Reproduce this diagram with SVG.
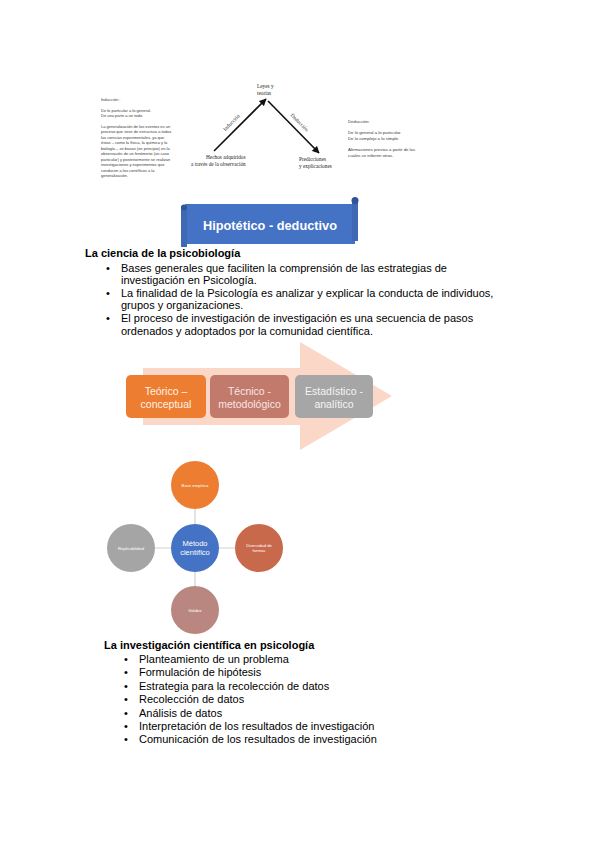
<svg xmlns="http://www.w3.org/2000/svg" width="599" height="848" viewBox="0 0 599 848">
<style>
.sm{font-family:"Liberation Sans",Arial,sans-serif;font-size:4px;fill:#3a3a3a}
.sr{font-family:"Liberation Serif","Times New Roman",serif;font-size:5.3px;fill:#222}
.body{font-family:"Liberation Sans",Arial,sans-serif;font-size:11px;fill:#000}
.hd{font-family:"Liberation Sans",Arial,sans-serif;font-size:11px;font-weight:bold;fill:#000}
.bx{font-family:"Liberation Sans",Arial,sans-serif;font-size:10.5px;text-anchor:middle}
.ct{font-family:"Liberation Sans",Arial,sans-serif;font-size:4.2px;fill:#fff;text-anchor:middle}
.conn{stroke:#cfcfcf;stroke-width:1.2}
</style>
<defs>
<marker id="ah" viewBox="0 0 10 10" refX="9" refY="5" markerWidth="4.5" markerHeight="4.5" orient="auto"><path d="M0,0 L10,5 L0,10 z" fill="#111"/></marker>
</defs>
<rect width="599" height="848" fill="#fff"/>

<g id="induccion-text">
<text class="sm" x="101" y="101">Inducción :</text>
<text class="sm" x="101" y="111.5">De lo particular a lo general.</text>
<text class="sm" x="101" y="116.5">De una parte a un todo.</text>
<text class="sm" x="101" y="128">La generalización de los eventos es un</text>
<text class="sm" x="101" y="133.4">proceso que sirve de estructura a todas</text>
<text class="sm" x="101" y="138.9">las ciencias experimentales, ya que</text>
<text class="sm" x="101" y="144.3">éstas – como la física, la química y la</text>
<text class="sm" x="101" y="149.8">biología – se basan (en principio) en la</text>
<text class="sm" x="101" y="155.2">observación de un fenómeno (un caso</text>
<text class="sm" x="101" y="160.6">particular) y posteriormente se realizan</text>
<text class="sm" x="101" y="166.1">investigaciones y experimentos que</text>
<text class="sm" x="101" y="171.5">conducen a los científicos a la</text>
<text class="sm" x="101" y="177">generalización.</text>
</g>

<g id="connectors">
<line x1="214" y1="151" x2="266" y2="99" stroke="#111" stroke-width="1.6" marker-end="url(#ah)"/>
<line x1="268" y1="101" x2="319" y2="153" stroke="#111" stroke-width="1.6" marker-end="url(#ah)"/>
<line class="conn" x1="195" y1="548" x2="195" y2="485"/>
<line class="conn" x1="195" y1="548" x2="195" y2="610"/>
<line class="conn" x1="195" y1="548" x2="131" y2="548"/>
<line class="conn" x1="195" y1="548" x2="259" y2="548"/>
</g>

<g id="triangle-labels">
<text class="sr" x="257" y="88">Leyes y</text>
<text class="sr" x="257" y="94.5">teorías</text>
<text class="sr" x="232" y="124" text-anchor="middle" transform="rotate(-45 232 123)">Inducción</text>
<text class="sr" x="299" y="124" text-anchor="middle" transform="rotate(45 299 123)">Deducción</text>
<text class="sr" x="206" y="159">Hechos adquiridos</text>
<text class="sr" x="191" y="166">a través de la observación</text>
<text class="sr" x="299" y="161">Predicciones</text>
<text class="sr" x="299" y="168">y explicaciones</text>
</g>

<g id="deduccion-text">
<text class="sm" x="348" y="122.5" style="font-size:4.3px">Deducción:</text>
<text class="sm" x="348" y="134" style="font-size:4.3px">De lo general a lo particular.</text>
<text class="sm" x="348" y="139.5" style="font-size:4.3px">De lo complejo a lo simple.</text>
<text class="sm" x="348" y="151" style="font-size:4.3px">Afirmaciones previas a partir de las</text>
<text class="sm" x="348" y="156.5" style="font-size:4.3px">cuales se infieren otras.</text>
</g>

<g id="banner">
<rect x="185" y="204" width="170" height="40" fill="#4472C4"/>
<rect x="181" y="206" width="6" height="41" fill="#3F69B5"/>
<circle cx="184" cy="207.5" r="3" fill="#2F5597"/>
<rect x="352" y="199" width="6" height="42" fill="#3F69B5"/>
<circle cx="355" cy="200.5" r="3.5" fill="#2F5597"/>
<text x="270" y="230" text-anchor="middle" textLength="134" lengthAdjust="spacingAndGlyphs" style="font-family:'Liberation Sans',Arial,sans-serif;font-size:13px;font-weight:bold;fill:#fff">Hipotético - deductivo</text>
</g>

<g id="section1">
<text class="hd" x="85" y="257">La ciencia de la psicobiología</text>
<text class="body" x="106" y="271.5">•</text>
<text class="body" x="121" y="271.5">Bases generales que faciliten la comprensión de las estrategias de</text>
<text class="body" x="121" y="283.5">investigación en Psicología.</text>
<text class="body" x="106" y="296.5">•</text>
<text class="body" x="121" y="296.5">La finalidad de la Psicología es analizar y explicar la conducta de individuos,</text>
<text class="body" x="121" y="308.5">grupos y organizaciones.</text>
<text class="body" x="106" y="322">•</text>
<text class="body" x="121" y="322">El proceso de investigación de investigación es una secuencia de pasos</text>
<text class="body" x="121" y="334.5">ordenados y adoptados por la comunidad científica.</text>
</g>

<g id="process-arrow">
<path d="M143,368 L300,368 L300,342 L392,396 L300,450 L300,425 L143,425 Z" fill="#FAD7C6"/>
</g>
<g id="box-teorico">
<rect x="126" y="375" width="80" height="43" rx="5" fill="#ED7D31"/>
<text class="bx" x="166" y="395" fill="#FFF2E8">Teórico –</text>
<text class="bx" x="166" y="408" fill="#FFF2E8">conceptual</text>
</g>
<g id="box-tecnico">
<rect x="210" y="375" width="79" height="43" rx="5" fill="#C27A6C"/>
<text class="bx" x="249.5" y="395" fill="#F6E6E2">Técnico -</text>
<text class="bx" x="249.5" y="408" fill="#F6E6E2">metodológico</text>
</g>
<g id="box-estadistico">
<rect x="295" y="375" width="78" height="43" rx="5" fill="#A6A6A6"/>
<text class="bx" x="334" y="395" fill="#F4F4F4">Estadístico -</text>
<text class="bx" x="334" y="408" fill="#F4F4F4">analítico</text>
</g>

<g id="node-base">
<circle cx="195" cy="485" r="24" fill="#ED7D31"/>
<text class="ct" x="195" y="486.5">Base empírica</text>
</g>
<g id="node-diversidad">
<circle cx="259" cy="548" r="24" fill="#C9694C"/>
<text class="ct" x="259" y="547">Diversidad de</text>
<text class="ct" x="259" y="552">formas</text>
</g>
<g id="node-validez">
<circle cx="195" cy="610" r="24" fill="#B98780"/>
<text class="ct" x="195" y="612">Validez</text>
</g>
<g id="node-replicabilidad">
<circle cx="131" cy="548" r="24" fill="#A5A5A5"/>
<text class="ct" x="131" y="549.5">Replicabilidad</text>
</g>
<g id="node-metodo">
<circle cx="195" cy="548" r="24" fill="#4472C4"/>
<text x="195" y="546" text-anchor="middle" style="font-family:'Liberation Sans',Arial,sans-serif;font-size:7.5px;fill:#fff">Método</text>
<text x="195" y="555" text-anchor="middle" style="font-family:'Liberation Sans',Arial,sans-serif;font-size:7.5px;fill:#fff">científico</text>
</g>

<g id="section2">
<text class="hd" x="104" y="649">La investigación científica en psicología</text>
<text class="body" x="124" y="663">•</text>
<text class="body" x="139" y="663">Planteamiento de un problema</text>
<text class="body" x="124" y="676.4">•</text>
<text class="body" x="139" y="676.4">Formulación de hipótesis</text>
<text class="body" x="124" y="689.8">•</text>
<text class="body" x="139" y="689.8">Estrategia para la recolección de datos</text>
<text class="body" x="124" y="703.2">•</text>
<text class="body" x="139" y="703.2">Recolección de datos</text>
<text class="body" x="124" y="716.6">•</text>
<text class="body" x="139" y="716.6">Análisis de datos</text>
<text class="body" x="124" y="730">•</text>
<text class="body" x="139" y="730">Interpretación de los resultados de investigación</text>
<text class="body" x="124" y="743.4">•</text>
<text class="body" x="139" y="743.4">Comunicación de los resultados de investigación</text>
</g>
</svg>
